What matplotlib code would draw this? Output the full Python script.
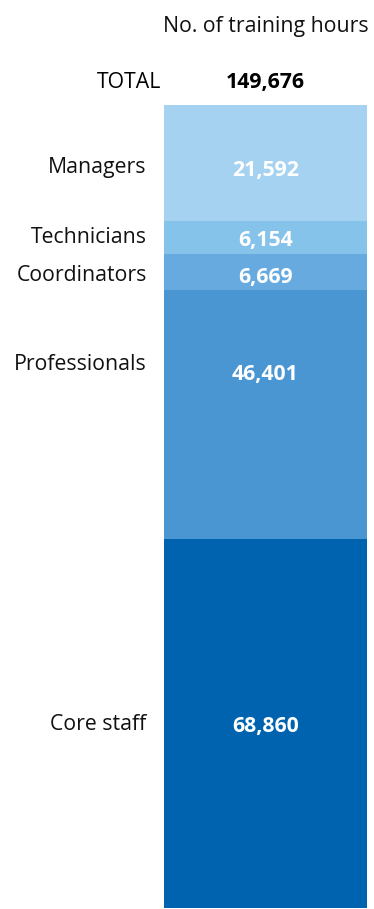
import numpy as np
import matplotlib.pyplot as plt
from matplotlib import transforms

plt.rcParams['font.family'] = ['Open Sans', 'DejaVu Sans']

# stacked from the bottom up
groups = ['Core staff', 'Professionals', 'Coordinators', 'Technicians', 'Managers']
hours = [68860, 46401, 6669, 6154, 21592]
colors = ['#0063af', '#4a96d2', '#67aadf', '#86c3eb', '#a4d2f0']
total = 149676

W, H = 374, 909
fig = plt.figure(figsize=(W / 100, H / 100), dpi=100)
ax = fig.add_axes([164 / W, 1 / H, 203 / W, 803 / H])

bottoms = np.concatenate([[0], np.cumsum(hours)[:-1]])
ax.bar(0, hours, bottom=bottoms, width=1, align='edge', color=colors, linewidth=0)
ax.set_xlim(0, 1)
ax.set_ylim(0, sum(hours))
ax.axis('off')

fs = 15.3
# professionals labels sit higher in their block
val_shift = [-3, 40, -6, -3, -8]
name_lift = [2, 10, 2, 3, 3]
for name, val, b, s, l in zip(groups, hours, bottoms, val_shift, name_lift):
    yc = b + val / 2
    off = transforms.offset_copy(ax.transData, fig=fig, x=0, y=s, units='dots')
    ax.text(0.5, yc, f'{val:,}', transform=off, ha='center', va='center',
            color='white', fontsize=fs, fontweight='bold')
    off2 = transforms.offset_copy(ax.get_yaxis_transform(), fig=fig, x=0, y=s + l, units='dots')
    ax.text(-0.085, yc, name, transform=off2, ha='right', va='center',
            color='#111111', fontsize=fs, clip_on=False)

top = sum(hours)
ax.text(0.5, top, f'{total:,}', transform=transforms.offset_copy(ax.transData, fig=fig, y=23, units='dots'),
        ha='center', va='center', fontsize=fs, fontweight='bold', color='black')
ax.text(-0.17, top, 'TOTAL', transform=transforms.offset_copy(ax.transData, fig=fig, y=23, units='dots'),
        ha='center', va='center', fontsize=fs, color='black')
ax.text(0.5, top, 'No. of training hours', transform=transforms.offset_copy(ax.transData, fig=fig, y=79, units='dots'),
        ha='center', va='center', fontsize=fs, color='#111111')

fig.savefig('out.png', dpi=100)
